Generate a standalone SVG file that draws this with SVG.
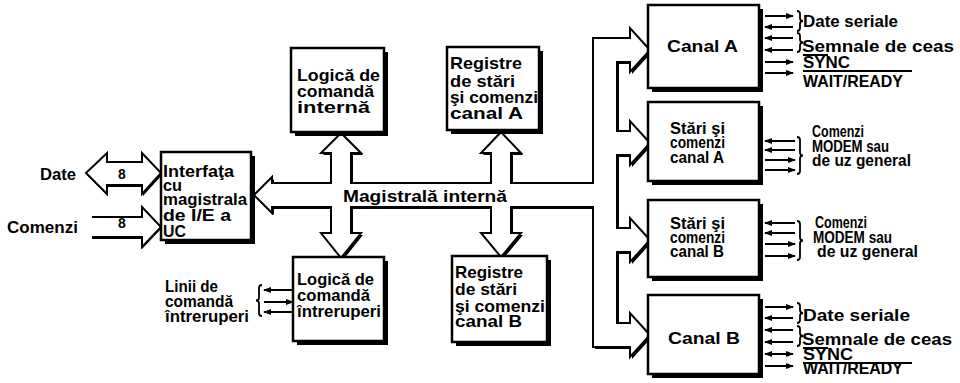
<svg xmlns="http://www.w3.org/2000/svg" width="960" height="383" viewBox="0 0 960 383">
<defs>
<style>
.t{font-family:"Liberation Sans",Arial,sans-serif;font-weight:700;font-size:17px;fill:#000}
.s14{font-size:14px}
.s16{font-size:16px}
.s18{font-size:18px}
.bx{fill:#fff;stroke:#000;stroke-width:2.5}
.sh{fill:#000}
.ln{stroke:#000;stroke-width:2;fill:none}
.br{stroke:#000;stroke-width:1.8;fill:none}
.shape{fill:#fff;stroke:#000;stroke-width:2;stroke-linejoin:miter}
</style>
<marker id="ah" viewBox="0 0 8 6" refX="7" refY="3" markerWidth="8" markerHeight="6" markerUnits="userSpaceOnUse" orient="auto-start-reverse"><path d="M0,0L8,3L0,6z" fill="#000"/></marker>
<path id="bus" d="M254,195 L272,177 L272,183 L331,183 L331,153 L321,153 L341,133 L361,153 L351,153 L351,183 L491,183 L491,153 L481,153 L501,132 L521,153 L511,153 L511,183 L593,183 L593,38 L630,38 L630,28 L650,50 L630,72 L630,62 L617,62 L617,131 L630,131 L630,121 L650,143 L630,165 L630,155 L617,155 L617,228 L630,228 L630,218 L650,240 L630,262 L630,252 L617,252 L617,323 L630,323 L630,313 L650,335 L630,357 L630,347 L593,347 L593,207 L511,207 L511,233 L521,233 L501,257 L481,233 L491,233 L491,207 L351,207 L351,233 L361,233 L341,258 L321,233 L331,233 L331,207 L272,207 L272,213 Z"/>
<path id="dateArr" d="M86,173 L107,153 L107,162 L142,162 L142,153 L161,173 L142,194 L142,185 L107,185 L107,194 Z"/>
<path id="cmdArr" d="M92,217 L142,217 L142,207 L161,227 L142,247 L142,237 L92,237"/>
</defs>
<rect width="960" height="383" fill="#fff"/>

<g id="connectors">
  <use href="#bus" class="sh" transform="translate(2,2)"/>
  <use href="#bus" class="shape"/>
  <use href="#dateArr" class="sh" transform="translate(1,2)"/>
  <use href="#dateArr" class="shape"/>
  <use href="#cmdArr" class="sh" transform="translate(0,2)"/>
  <use href="#cmdArr" class="shape"/>

  <line class="ln" x1="765" y1="16" x2="793" y2="16" marker-end="url(#ah)"/>
  <line class="ln" x1="765" y1="27" x2="793" y2="27" marker-start="url(#ah)"/>
  <line class="ln" x1="765" y1="38" x2="793" y2="38" marker-start="url(#ah)"/>
  <line class="ln" x1="765" y1="50" x2="793" y2="50" marker-start="url(#ah)"/>
  <line class="ln" x1="765" y1="62" x2="793" y2="62" marker-end="url(#ah)"/>
  <line class="ln" x1="765" y1="73" x2="793" y2="73" marker-end="url(#ah)"/>

  <line class="ln" x1="765" y1="141" x2="795" y2="141" marker-start="url(#ah)"/>
  <line class="ln" x1="765" y1="150" x2="795" y2="150" marker-start="url(#ah)"/>
  <line class="ln" x1="765" y1="160" x2="795" y2="160" marker-end="url(#ah)"/>
  <line class="ln" x1="765" y1="170" x2="795" y2="170" marker-end="url(#ah)"/>

  <line class="ln" x1="765" y1="223" x2="795" y2="223" marker-start="url(#ah)"/>
  <line class="ln" x1="765" y1="233" x2="795" y2="233" marker-start="url(#ah)"/>
  <line class="ln" x1="765" y1="244" x2="795" y2="244" marker-end="url(#ah)"/>
  <line class="ln" x1="765" y1="256" x2="795" y2="256" marker-end="url(#ah)"/>

  <line class="ln" x1="765" y1="307" x2="793" y2="307" marker-end="url(#ah)"/>
  <line class="ln" x1="765" y1="318" x2="793" y2="318" marker-start="url(#ah)"/>
  <line class="ln" x1="765" y1="330" x2="793" y2="330" marker-start="url(#ah)"/>
  <line class="ln" x1="765" y1="342" x2="793" y2="342" marker-start="url(#ah)"/>
  <line class="ln" x1="765" y1="354" x2="793" y2="354" marker-start="url(#ah)" marker-end="url(#ah)"/>
  <line class="ln" x1="765" y1="366" x2="793" y2="366" marker-end="url(#ah)"/>

  <line class="ln" x1="264" y1="290" x2="293" y2="290" marker-start="url(#ah)"/>
  <line class="ln" x1="264" y1="302" x2="293" y2="302" marker-end="url(#ah)"/>
  <line class="ln" x1="264" y1="312" x2="293" y2="312" marker-start="url(#ah)"/>

  <path class="br" d="M797,11 Q800,11 800,14 L800,18 Q800,21 803,21 Q800,21 800,24 L800,28 Q800,31 797,31"/>
  <path class="br" d="M797,33 Q800,33 800,36 L800,39.5 Q800,42.5 803,42.5 Q800,42.5 800,45.5 L800,49 Q800,52 797,52"/>
  <path class="br" d="M797,137 Q800,137 800,140 L800,152.5 Q800,155.5 803,155.5 Q800,155.5 800,158.5 L800,171 Q800,174 797,174"/>
  <path class="br" d="M797,221 Q800,221 800,224 L800,237.5 Q800,240.5 803,240.5 Q800,240.5 800,243.5 L800,257 Q800,260 797,260"/>
  <path class="br" d="M797,303 Q800,303 800,306 L800,310 Q800,313 803,313 Q800,313 800,316 L800,320 Q800,323 797,323"/>
  <path class="br" d="M797,326 Q800,326 800,329 L800,333 Q800,336 803,336 Q800,336 800,339 L800,343 Q800,346 797,346"/>
  <path class="br" d="M262,285 Q259,285 259,288 L259,297.5 Q259,300.5 256,300.5 Q259,300.5 259,303.5 L259,313 Q259,316 262,316"/>

  <line class="ln" x1="803" y1="55" x2="828" y2="55" stroke-width="1.6"/>
  <line class="ln" x1="803" y1="71" x2="912" y2="71" stroke-width="1.6"/>
  <line class="ln" x1="803" y1="348" x2="828" y2="348" stroke-width="1.6"/>
  <line class="ln" x1="803" y1="363" x2="912" y2="363" stroke-width="1.6"/>

  <text class="t" x="40" y="180" textLength="36" lengthAdjust="spacingAndGlyphs">Date</text>
  <text class="t" x="7" y="233" textLength="71" lengthAdjust="spacingAndGlyphs">Comenzi</text>
  <text class="t s14" x="118" y="179">8</text>
  <text class="t s14" x="118" y="228">8</text>
  <text class="t" x="343" y="202" textLength="164" lengthAdjust="spacingAndGlyphs">Magistrală internă</text>
  <text class="t s16" x="165" y="292" textLength="53" lengthAdjust="spacingAndGlyphs">Linii de</text>
  <text class="t s16" x="165" y="307" textLength="68" lengthAdjust="spacingAndGlyphs">comandă</text>
  <text class="t s16" x="165" y="322" textLength="84" lengthAdjust="spacingAndGlyphs">întreruperi</text>

  <text class="t" x="803" y="27" textLength="95" lengthAdjust="spacingAndGlyphs">Date seriale</text>
  <text class="t" x="802" y="52" textLength="152" lengthAdjust="spacingAndGlyphs">Semnale de ceas</text>
  <text class="t" x="803" y="68" textLength="47" lengthAdjust="spacingAndGlyphs">SYNC</text>
  <text class="t" x="803" y="87" textLength="100" lengthAdjust="spacingAndGlyphs">WAIT/READY</text>

  <text class="t s16" x="812" y="137" textLength="52" lengthAdjust="spacingAndGlyphs">Comenzi</text>
  <text class="t s16" x="812" y="152" textLength="77" lengthAdjust="spacingAndGlyphs">MODEM sau</text>
  <text class="t s16" x="812" y="166" textLength="99" lengthAdjust="spacingAndGlyphs">de uz general</text>

  <text class="t s16" x="815" y="228" textLength="52" lengthAdjust="spacingAndGlyphs">Comenzi</text>
  <text class="t s16" x="813" y="243" textLength="79" lengthAdjust="spacingAndGlyphs">MODEM sau</text>
  <text class="t s16" x="817" y="257" textLength="101" lengthAdjust="spacingAndGlyphs">de uz general</text>

  <text class="t" x="803" y="321" textLength="107" lengthAdjust="spacingAndGlyphs">Date seriale</text>
  <text class="t" x="802" y="345" textLength="150" lengthAdjust="spacingAndGlyphs">Semnale de ceas</text>
  <text class="t" x="803" y="360" textLength="50" lengthAdjust="spacingAndGlyphs">SYNC</text>
  <text class="t" x="803" y="374" textLength="100" lengthAdjust="spacingAndGlyphs">WAIT/READY</text>
</g>

<g id="interfata">
  <rect class="sh" x="165" y="156" width="90" height="88"/>
  <rect class="bx" x="161" y="152" width="90" height="88"/>
  <text class="t" x="163" y="177" textLength="71" lengthAdjust="spacingAndGlyphs">Interfaţa</text>
  <text class="t" x="163" y="191" textLength="19" lengthAdjust="spacingAndGlyphs">cu</text>
  <text class="t" x="163" y="205" textLength="84" lengthAdjust="spacingAndGlyphs">magistrala</text>
  <text class="t" x="163" y="221" textLength="68" lengthAdjust="spacingAndGlyphs">de I/E a</text>
  <text class="t" x="163" y="237" textLength="23" lengthAdjust="spacingAndGlyphs">UC</text>
</g>

<g id="logica-interna">
  <rect class="sh" x="295" y="52" width="93" height="84"/>
  <rect class="bx" x="291" y="48" width="93" height="84"/>
  <text class="t" x="297" y="81" textLength="83" lengthAdjust="spacingAndGlyphs">Logică de</text>
  <text class="t" x="297" y="97" textLength="77" lengthAdjust="spacingAndGlyphs">comandă</text>
  <text class="t" x="297" y="113" textLength="73" lengthAdjust="spacingAndGlyphs">internă</text>
</g>

<g id="registre-a">
  <rect class="sh" x="451" y="51" width="92" height="83"/>
  <rect class="bx" x="447" y="47" width="92" height="83"/>
  <text class="t" x="450" y="69" textLength="72" lengthAdjust="spacingAndGlyphs">Registre</text>
  <text class="t" x="450" y="87" textLength="65" lengthAdjust="spacingAndGlyphs">de  stări</text>
  <text class="t" x="450" y="103" textLength="88" lengthAdjust="spacingAndGlyphs">şi comenzi</text>
  <text class="t" x="450" y="119" textLength="73" lengthAdjust="spacingAndGlyphs">canal A</text>
</g>

<g id="logica-intreruperi">
  <rect class="sh" x="297" y="261" width="91" height="84"/>
  <rect class="bx" x="293" y="257" width="91" height="84"/>
  <text class="t" x="297" y="285" textLength="77" lengthAdjust="spacingAndGlyphs">Logică de</text>
  <text class="t" x="297" y="301" textLength="73" lengthAdjust="spacingAndGlyphs">comandă</text>
  <text class="t" x="297" y="317" textLength="84" lengthAdjust="spacingAndGlyphs">întreruperi</text>
</g>

<g id="registre-b">
  <rect class="sh" x="456" y="260" width="95" height="86"/>
  <rect class="bx" x="452" y="256" width="95" height="86"/>
  <text class="t" x="455" y="278" textLength="68" lengthAdjust="spacingAndGlyphs">Registre</text>
  <text class="t" x="455" y="295" textLength="62" lengthAdjust="spacingAndGlyphs">de  stări</text>
  <text class="t" x="455" y="312" textLength="90" lengthAdjust="spacingAndGlyphs">şi comenzi</text>
  <text class="t" x="455" y="327" textLength="67" lengthAdjust="spacingAndGlyphs">canal B</text>
</g>

<g id="canal-a">
  <rect class="sh" x="652" y="9" width="111" height="83"/>
  <rect class="bx" x="648" y="5" width="111" height="83"/>
  <text class="t" x="667" y="52" textLength="71" lengthAdjust="spacingAndGlyphs">Canal A</text>
</g>

<g id="stari-a">
  <rect class="sh" x="652" y="106" width="111" height="79"/>
  <rect class="bx" x="648" y="102" width="111" height="79"/>
  <text class="t" x="670" y="134" textLength="55" lengthAdjust="spacingAndGlyphs">Stări şi</text>
  <text class="t" x="670" y="148" textLength="55" lengthAdjust="spacingAndGlyphs">comenzi</text>
  <text class="t" x="670" y="163" textLength="54" lengthAdjust="spacingAndGlyphs">canal A</text>
</g>

<g id="stari-b">
  <rect class="sh" x="652" y="204" width="111" height="77"/>
  <rect class="bx" x="648" y="200" width="111" height="77"/>
  <text class="t" x="670" y="229" textLength="55" lengthAdjust="spacingAndGlyphs">Stări şi</text>
  <text class="t" x="670" y="243" textLength="55" lengthAdjust="spacingAndGlyphs">comenzi</text>
  <text class="t" x="670" y="257" textLength="54" lengthAdjust="spacingAndGlyphs">canal B</text>
</g>

<g id="canal-b">
  <rect class="sh" x="652" y="299" width="111" height="79"/>
  <rect class="bx" x="648" y="295" width="111" height="79"/>
  <text class="t" x="668" y="344" textLength="72" lengthAdjust="spacingAndGlyphs">Canal B</text>
</g>
</svg>
